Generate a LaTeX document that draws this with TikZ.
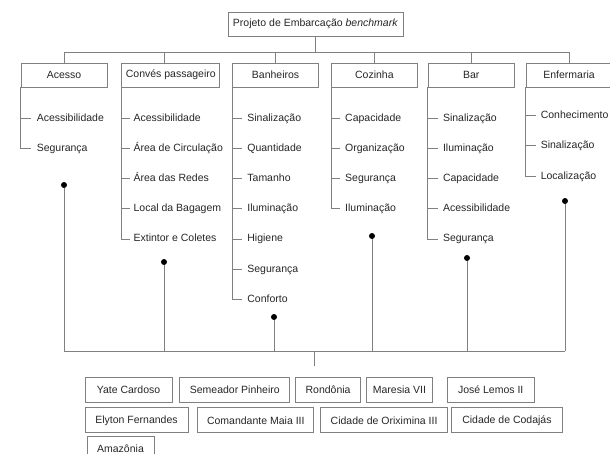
\documentclass[tikz,border=0pt]{standalone}
\usepackage{fontspec}
\setmainfont{Liberation Sans}
\usetikzlibrary{positioning}

\begin{document}
\begin{tikzpicture}[
    x=1pt, y=-1pt,
    every node/.style={font=\fontsize{10.5}{12}\selectfont, text=black!85},
    wire/.style   ={draw=black!50, line width=0.8pt},
    topbox/.style ={wire, minimum height=24pt, inner xsep=5pt},
    catbox/.style ={wire, minimum width=86pt, minimum height=24pt},
    shipbox/.style={wire, minimum height=25pt},
    item/.style   ={inner sep=0pt, text height=8pt, text depth=2pt},
    dot/.style    ={circle, fill=black, inner sep=0pt, minimum size=6pt}
]
\useasboundingbox (0,0) rectangle (610,453);

\node[topbox] (top) at (315.5,24) {Projeto de Embarcação \textit{benchmark}};

% categories
\node[catbox]                                        (acesso)     at (64,75) {Acesso};
\node[catbox, minimum width=98pt, right=14pt of acesso] (conves)    {Convés passageiro};
\node[catbox, right=12pt of conves]                  (banheiros)  {Banheiros};
\node[catbox, right=12pt of banheiros]               (cozinha)    {Cozinha};
\node[catbox, right=10pt of cozinha]                 (bar)        {Bar};
\node[catbox, right=11pt of bar]                     (enfermaria) {Enfermaria};

\coordinate (tbus) at (314,52);
\draw[wire] (top) -- (top |- tbus);
\draw[wire] (acesso.north |- tbus) -- (enfermaria.north |- tbus);
\foreach \n in {acesso,banheiros,cozinha,bar,enfermaria}
    \draw[wire] (\n.north |- tbus) -- (\n.north);
\draw[wire] ([xshift=-6pt]conves.north |- tbus) -- ([xshift=-6pt]conves.north);

% Acesso
\node[item, below right=25.5pt and 16pt of acesso.south west] (a1) {Acessibilidade};
\node[item, below right=19.8pt and 0pt of a1.south west]      (a2) {Segurança};
\draw[wire] (a1.west -| acesso.west) -- ([xshift=-6pt]a1.west);
\draw[wire] (acesso.south west) |- ([xshift=-6pt]a2.west);

% Conves passageiro
\node[item, below right=25.5pt and 12pt of conves.south west] (c1) {Acessibilidade};
\node[item, below right=19.8pt and 0pt of c1.south west]      (c2) {Área de Circulação};
\node[item, below right=19.8pt and 0pt of c2.south west]      (c3) {Área das Redes};
\node[item, below right=19.8pt and 0pt of c3.south west]      (c4) {Local da Bagagem};
\node[item, below right=19.8pt and 0pt of c4.south west]      (c5) {Extintor e Coletes};
\foreach \i in {1,...,4}
    \draw[wire] (c\i.west -| conves.west) -- ([xshift=-3pt]c\i.west);
\draw[wire] (conves.south west) |- ([xshift=-3pt]c5.west);

% Banheiros
\node[item, below right=25.5pt and 15pt of banheiros.south west] (b1) {Sinalização};
\node[item, below right=19.8pt and 0pt of b1.south west]         (b2) {Quantidade};
\node[item, below right=19.8pt and 0pt of b2.south west]         (b3) {Tamanho};
\node[item, below right=19.8pt and 0pt of b3.south west]         (b4) {Iluminação};
\node[item, below right=19.8pt and 0pt of b4.south west]         (b5) {Higiene};
\node[item, below right=19.8pt and 0pt of b5.south west]         (b6) {Segurança};
\node[item, below right=19.8pt and 0pt of b6.south west]         (b7) {Conforto};
\foreach \i in {1,...,6}
    \draw[wire] (b\i.west -| banheiros.west) -- ([xshift=-5pt]b\i.west);
\draw[wire] (banheiros.south west) |- ([xshift=-5pt]b7.west);

% Cozinha
\node[item, below right=25.5pt and 14pt of cozinha.south west] (k1) {Capacidade};
\node[item, below right=19.8pt and 0pt of k1.south west]       (k2) {Organização};
\node[item, below right=19.8pt and 0pt of k2.south west]       (k3) {Segurança};
\node[item, below right=19.8pt and 0pt of k3.south west]       (k4) {Iluminação};
\foreach \i in {1,...,3}
    \draw[wire] (k\i.west -| cozinha.west) -- ([xshift=-5pt]k\i.west);
\draw[wire] (cozinha.south west) |- ([xshift=-5pt]k4.west);

% Bar
\node[item, below right=25.5pt and 15pt of bar.south west] (r1) {Sinalização};
\node[item, below right=19.8pt and 0pt of r1.south west]   (r2) {Iluminação};
\node[item, below right=19.8pt and 0pt of r2.south west]   (r3) {Capacidade};
\node[item, below right=19.8pt and 0pt of r3.south west]   (r4) {Acessibilidade};
\node[item, below right=19.8pt and 0pt of r4.south west]   (r5) {Segurança};
\foreach \i in {1,...,4}
    \draw[wire] (r\i.west -| bar.west) -- ([xshift=-5pt]r\i.west);
\draw[wire] (bar.south west) |- ([xshift=-5pt]r5.west);

% Enfermaria
\node[item, below right=23pt and 15pt of enfermaria.south west] (e1) {Conhecimento};
\node[item, below right=19.8pt and 0pt of e1.south west]        (e2) {Sinalização};
\node[item, below right=19.8pt and 0pt of e2.south west]        (e3) {Localização};
\foreach \i in {1,...,2}
    \draw[wire] (e\i.west -| enfermaria.west) -- ([xshift=-5pt]e\i.west);
\draw[wire] (enfermaria.south west) |- ([xshift=-5pt]e3.west);

% dots down to the lower bus
\node[dot] (dA) at (64,185)  {};
\node[dot] (dC) at (164,262) {};
\node[dot] (dB) at (274,317) {};
\node[dot] (dK) at (372,236) {};
\node[dot] (dR) at (467,258) {};
\node[dot] (dE) at (565,201) {};

\coordinate (bbus) at (314,351);
\coordinate (bend) at (314,366);
\foreach \d in {dA,dC,dB,dK,dR,dE}
    \draw[wire] (\d) -- (\d |- bbus);
\draw[wire] (dA |- bbus) -- (dE |- bbus);
\draw[wire] (bbus) -- (bend);

% vessels
\node[shipbox, minimum width=87pt]  (yate)      at (128.5,389.5) {Yate Cardoso};
\node[shipbox, minimum width=110pt, right=7pt of yate]      (semeador)  {Semeador Pinheiro};
\node[shipbox, minimum width=65pt,  right=5pt of semeador]  (rondonia)  {Rondônia};
\node[shipbox, minimum width=66pt,  right=5pt of rondonia]  (maresia)   {Maresia VII};
\node[shipbox, minimum width=87pt,  right=14pt of maresia]  (jose)      {José Lemos II};

\node[shipbox, minimum width=103pt, below right=5pt and 0pt of yate.south west] (elyton) {Elyton Fernandes};
\node[shipbox, minimum width=116pt, right=9pt of elyton]    (comandante) {Comandante Maia III};
\node[shipbox, minimum width=127pt, right=6pt of comandante] (oriximina) {Cidade de Oriximina III};
\node[shipbox, minimum width=111pt, right=3pt of oriximina] (codajas)   {Cidade de Codajás};

\node[shipbox, minimum width=67pt, below right=3pt and 2pt of elyton.south west] (amazonia) {Amazônia};

\end{tikzpicture}
\end{document}
